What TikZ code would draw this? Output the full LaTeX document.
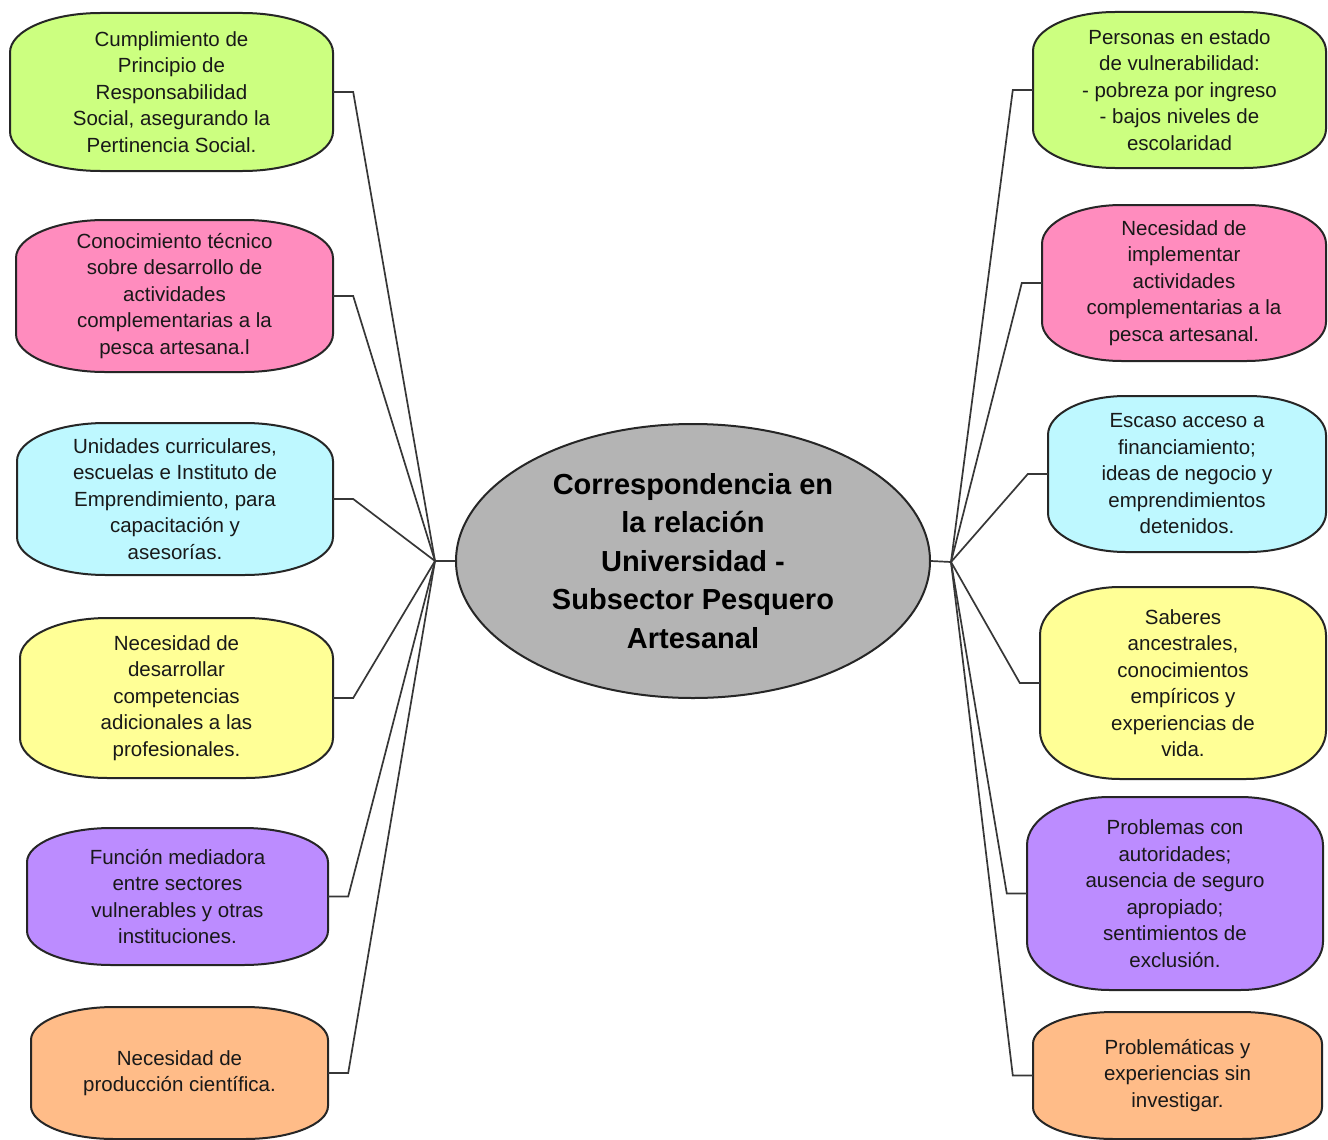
\documentclass[tikz,border=0pt]{standalone}
\usepackage{fontspec}
\setmainfont{Liberation Sans}
\usetikzlibrary{shapes.geometric,calc}
\definecolor{cgreen}{RGB}{204,255,128}
\definecolor{cpink}{RGB}{255,140,190}
\definecolor{ccyan}{RGB}{190,248,255}
\definecolor{cyellow}{RGB}{255,255,150}
\definecolor{cpurple}{RGB}{188,140,255}
\definecolor{corange}{RGB}{255,188,136}
\definecolor{cgray}{RGB}{180,180,180}
\definecolor{cline}{RGB}{55,55,55}
\tikzset{
  boxline/.style={draw=black!85, line width=2pt},
  boxtext/.style={draw=none, align=center, inner sep=0pt, text=black!90,
    font=\fontsize{20.5}{26.5}\selectfont},
  conn/.style={draw=cline, line width=1.7pt},
  hub/.style={ellipse, draw=black!85, line width=2pt, fill=cgray, inner sep=0pt,
    minimum width=474pt, minimum height=274pt, align=center,
    font=\bfseries\fontsize{29}{38.5}\selectfont}
}
\newcommand\softbox[7]{%
  \pgfmathsetmacro\bxa{#2}\pgfmathsetmacro\bya{#3}%
  \pgfmathsetmacro\bxb{#4}\pgfmathsetmacro\byb{#5}%
  \pgfmathsetmacro\brx{0.28*(\bxb-\bxa)}%
  \pgfmathsetmacro\bry{0.25*(\byb-\bya)}%
  \pgfmathsetmacro\bcx{0.4477*\brx}\pgfmathsetmacro\bcy{0.4477*\bry}%
  \pgfmathsetmacro\bw{\bxb-\bxa}\pgfmathsetmacro\bh{\byb-\bya}%
  \draw[boxline,fill=#6] (\bxa,\bya+\bry) .. controls (\bxa,\bya+\bcy) and (\bxa+\bcx,\bya) .. (\bxa+\brx,\bya)
    -- (\bxb-\brx,\bya) .. controls (\bxb-\bcx,\bya) and (\bxb,\bya+\bcy) .. (\bxb,\bya+\bry)
    -- (\bxb,\byb-\bry) .. controls (\bxb,\byb-\bcy) and (\bxb-\bcx,\byb) .. (\bxb-\brx,\byb)
    -- (\bxa+\brx,\byb) .. controls (\bxa+\bcx,\byb) and (\bxa,\byb-\bcy) .. (\bxa,\byb-\bry) -- cycle;
  \node[boxtext, minimum width=\bw pt, minimum height=\bh pt] (#1) at ({(\bxa+\bxb)/2},{(\bya+\byb)/2}) {#7};
}
\begin{document}
\begin{tikzpicture}[x=1pt,y=-1pt]
\useasboundingbox[fill=white] (0,0) rectangle (1328,1140);
% left boxes
\softbox{l1}{10}{13}{333}{171}{cgreen}{Cumplimiento de\\Principio de\\Responsabilidad\\Social, asegurando la\\Pertinencia Social.}
\softbox{l2}{16}{220}{333}{372}{cpink}{Conocimiento técnico\\sobre desarrollo de\\actividades\\complementarias a la\\pesca artesana.l}
\softbox{l3}{17}{423}{333}{575}{ccyan}{Unidades curriculares,\\escuelas e Instituto de\\Emprendimiento, para\\capacitación y\\asesorías.}
\softbox{l4}{20}{618}{333}{778}{cyellow}{Necesidad de\\desarrollar\\competencias\\adicionales a las\\profesionales.}
\softbox{l5}{27}{828}{328}{965}{cpurple}{Función mediadora\\entre sectores\\vulnerables y otras\\instituciones.}
\softbox{l6}{31}{1007}{328}{1139}{corange}{Necesidad de\\producción científica.}
% right boxes
\softbox{r1}{1033}{12}{1326}{168}{cgreen}{Personas en estado\\de vulnerabilidad:\\- pobreza por ingreso\\- bajos niveles de\\escolaridad}
\softbox{r2}{1042}{205}{1326}{361}{cpink}{Necesidad de\\implementar\\actividades\\complementarias a la\\pesca artesanal.}
\softbox{r3}{1048}{396}{1326}{552}{ccyan}{Escaso acceso a\\financiamiento;\\ideas de negocio y\\emprendimientos\\detenidos.}
\softbox{r4}{1040}{587}{1326}{779}{cyellow}{Saberes\\ancestrales,\\conocimientos\\empíricos y\\experiencias de\\vida.}
\softbox{r5}{1027}{797}{1323}{990}{cpurple}{Problemas con\\autoridades;\\ausencia de seguro\\apropiado;\\sentimientos de\\exclusión.}
\softbox{r6}{1033}{1012}{1322}{1139}{corange}{Problemáticas y\\experiencias sin\\investigar.}
% center
\node[hub] (c) at (693,561) {Correspondencia en\\la relación\\Universidad -\\Subsector Pesquero\\Artesanal};
\coordinate (hl) at (435,561);
\coordinate (hr) at (951,562);
\draw[conn] (c.west) -- (hl);
\draw[conn] (c.east) -- (hr);
\foreach \n in {l1,l2,l3,l4,l5,l6} \draw[conn] (\n.east) -- ++(20,0) -- (hl);
\foreach \n in {r1,r2,r3,r4,r5,r6} \draw[conn] (\n.west) -- ++(-20,0) -- (hr);
\end{tikzpicture}
\end{document}
